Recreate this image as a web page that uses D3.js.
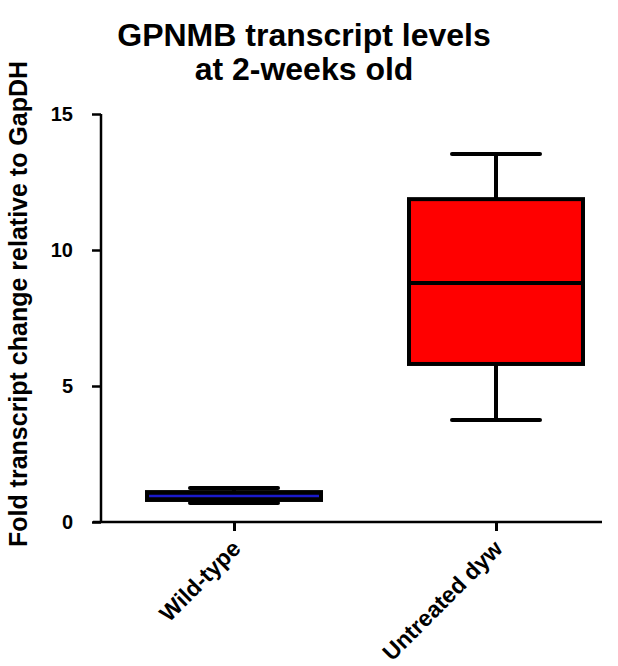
<!DOCTYPE html>
<html>
<head>
<meta charset="utf-8">
<script src="https://cdn.jsdelivr.net/npm/d3@7"></script>
<style>
	body { margin: 0; background: #fff; }
	svg { display: block; }
	text { font-family: Arial, "Liberation Sans", sans-serif; font-weight: bold; fill: #000; }
</style>
</head>
<body>
<svg id="chart" width="618" height="666"></svg>
<script>
// box plot values
const categories = ["Wild-type", "Untreated dyw"];
const whiskerLow = [0.70, 3.75];
const q1 = [0.81, 5.81];
const median = [0.96, 8.79];
const q3 = [1.10, 11.87];
const whiskerHigh = [1.25, 13.53];
const boxFill = ["#000000", "#ff0000"];
const medianColor = ["#1a1acc", "#000000"];
const yTicks = [0, 5, 10, 15];

const svg = d3.select("#chart");

const x = d3.scalePoint()
	.domain(categories)
	.range([234, 496]);

const y = d3.scaleLinear()
	.domain([0, 15])
	.range([522, 114]);

const boxWidth = 174;
const capWidth = 88;

// title
svg.append("text")
	.attr("text-anchor", "middle")
	.attr("x", 304)
	.attr("y", 46)
	.style("font-size", "32px")
	.text("GPNMB transcript levels");

svg.append("text")
	.attr("text-anchor", "middle")
	.attr("x", 304)
	.attr("y", 80)
	.style("font-size", "32px")
	.text("at 2-weeks old");

// y axis label
svg.append("text")
	.attr("text-anchor", "middle")
	.attr("transform", "translate(27,304) rotate(-90)")
	.style("font-size", "25px")
	.text("Fold transcript change relative to GapDH");

// y axis
const yAxis = d3.axisLeft(y).tickValues(yTicks).tickSize(9).tickPadding(19).tickSizeOuter(0);
const gY = svg.append("g")
	.attr("transform", "translate(101,0)")
	.call(yAxis);
gY.select(".domain").attr("stroke-width", 2.5).attr("d", `M0,${y(15)}V${y(0)}`);
gY.selectAll(".tick line").attr("stroke-width", 2.5);
gY.selectAll(".tick text")
	.style("font-size", "20px")
	.style("font-family", "Arial, 'Liberation Sans', sans-serif");

// x axis
const xAxis = d3.axisBottom(x).tickSize(9).tickFormat("");
const gX = svg.append("g")
	.attr("transform", `translate(0,${y(0)})`)
	.call(xAxis);
gX.select(".domain").remove();
gX.selectAll(".tick line").attr("stroke-width", 3);
gX.append("line")
	.attr("x1", 93).attr("x2", 602)
	.attr("stroke", "#000")
	.attr("stroke-width", 2.5);

// category labels
svg.append("g")
	.selectAll("text")
	.data(categories)
	.join("text")
	.attr("text-anchor", "end")
	.attr("transform", d => `translate(${x(d) + 8},${y(0) + 28}) rotate(-45)`)
	.style("font-size", "23px")
	.text(d => d);

// boxes
const boxes = svg.append("g")
	.selectAll("g")
	.data(d3.range(categories.length))
	.join("g");

boxes.append("line")
	.attr("x1", i => x(categories[i])).attr("x2", i => x(categories[i]))
	.attr("y1", i => y(whiskerHigh[i])).attr("y2", i => y(whiskerLow[i]))
	.attr("stroke", "#000").attr("stroke-width", 4);

boxes.selectAll(".cap")
	.data(i => [[i, whiskerLow[i]], [i, whiskerHigh[i]]])
	.join("line")
	.attr("class", "cap")
	.attr("x1", d => x(categories[d[0]]) - capWidth / 2)
	.attr("x2", d => x(categories[d[0]]) + capWidth / 2)
	.attr("y1", d => y(d[1])).attr("y2", d => y(d[1]))
	.attr("stroke", "#000").attr("stroke-width", 4)
	.attr("stroke-linecap", "round");

boxes.append("rect")
	.attr("x", i => x(categories[i]) - boxWidth / 2)
	.attr("width", boxWidth)
	.attr("y", i => y(q3[i]))
	.attr("height", i => y(q1[i]) - y(q3[i]))
	.attr("fill", i => boxFill[i])
	.attr("stroke", "#000").attr("stroke-width", 4);

boxes.append("line")
	.attr("x1", i => x(categories[i]) - boxWidth / 2 + 2)
	.attr("x2", i => x(categories[i]) + boxWidth / 2 - 2)
	.attr("y1", i => y(median[i])).attr("y2", i => y(median[i]))
	.attr("stroke", i => medianColor[i])
	.attr("stroke-width", (d, i) => i === 0 ? 2.5 : 4);
</script>
</body>
</html>
